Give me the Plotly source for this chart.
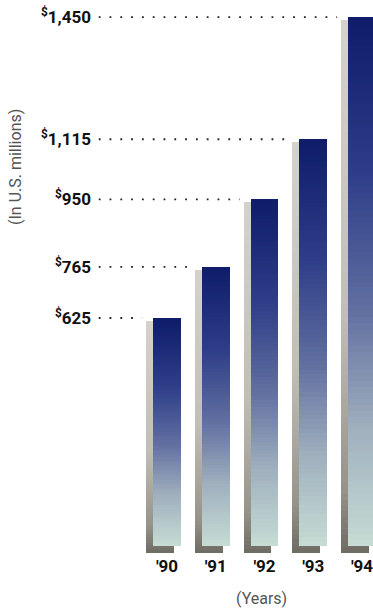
import plotly.graph_objects as go
import numpy as np

# ---- data ----
years = ["'90", "'91", "'92", "'93", "'94"]
revenue = [625, 765, 950, 1115, 1450]          # in U.S. $ millions
tick_text = ["<sup>$</sup>625", "<sup>$</sup>765", "<sup>$</sup>950",
             "<sup>$</sup>1,115", "<sup>$</sup>1,450"]

FONT = "Liberation Sans Narrow, Roboto, sans-serif"

# ---- geometry (axis units) ----
xpos = list(range(len(years)))
bar_w = 0.574
shadow_dx = -0.1436
shadow_base = -19.0
shadow_top_drop = 8.0
N = 90

def lerp_color(stops, t):
    ts = [s[0] for s in stops]
    for k in range(len(stops) - 1):
        if ts[k] <= t <= ts[k + 1]:
            a, b = stops[k], stops[k + 1]
            f = (t - a[0]) / (b[0] - a[0]) if b[0] > a[0] else 0
            c = [int(round(a[1][m] + (b[1][m] - a[1][m]) * f)) for m in range(3)]
            return "rgb(%d,%d,%d)" % tuple(c)
    c = stops[-1][1]
    return "rgb(%d,%d,%d)" % tuple(c)

front_stops = [(0.0, (198, 220, 212)), (0.22, (160, 176, 190)), (0.45, (96, 110, 160)),
               (0.7, (46, 62, 136)), (1.0, (14, 28, 106))]
shadow_stops = [(0.0, (110, 108, 98)), (0.12, (150, 148, 138)), (0.45, (192, 190, 182)),
                (1.0, (212, 210, 202))]

fig = go.Figure()

def gradient_bars(xs, tops, base0, stops, width):
    bx, bb, bh, bc = [], [], [], []
    for x, top in zip(xs, tops):
        span = top - base0
        step = span / N
        for j in range(N):
            b = base0 + step * j
            h = min(step * 1.8, top - b)
            bx.append(x)
            bb.append(b)
            bh.append(h)
            bc.append(lerp_color(stops, (j + 0.5) / N))
    return go.Bar(x=bx, y=bh, base=bb, width=width,
                  marker=dict(color=bc, line=dict(width=0)),
                  hoverinfo="skip", showlegend=False)

# shadow bars
fig.add_trace(gradient_bars([x + shadow_dx for x in xpos],
                            [v - shadow_top_drop for v in revenue],
                            shadow_base, shadow_stops, bar_w))
# front bars
fig.add_trace(gradient_bars(xpos, revenue, 0.0, front_stops, bar_w))

# dotted leader lines
x_left = -1.40
for x, v in zip(xpos, revenue):
    fig.add_trace(go.Scatter(x=[x_left, x + shadow_dx - bar_w / 2 - 0.08], y=[v, v],
                             mode="lines",
                             line=dict(color="#222222", width=1.8, dash="1.8px,9px"),
                             hoverinfo="skip", showlegend=False))

fig.update_layout(
    width=373, height=610,
    margin=dict(l=98, r=0, t=0, b=56),
    paper_bgcolor="white", plot_bgcolor="white",
    barmode="overlay", bargap=0,
    hovermode=False,
    font=dict(family=FONT, color="#111111"),
    xaxis=dict(range=[-1.4154, 4.2256], tickvals=xpos, ticktext=years,
               showgrid=False, zeroline=False, showline=False, ticks="",
               ticklabeloverflow="allow",
               tickfont=dict(family=FONT, size=17, color="#111111", weight="bold"),
               fixedrange=True),
    yaxis=dict(range=[-21.9, 1496.7], tickvals=revenue, ticktext=tick_text,
               showgrid=False, zeroline=False, showline=False, ticks="",
               ticklabelstandoff=6,
               tickfont=dict(family=FONT, size=17, color="#111111", weight="bold"),
               fixedrange=True),
    annotations=[
        dict(text="(In U.S. millions)", xref="paper", yref="paper",
             x=0, y=1, xanchor="center", yanchor="middle",
             xshift=15 - 98, yshift=-(167),
             textangle=-90, showarrow=False,
             font=dict(family=FONT, size=16, color="#555555")),
        dict(text="(Years)", xref="paper", yref="paper",
             x=0, y=0, xanchor="center", yanchor="middle",
             xshift=261 - 98, yshift=-(598 - 554),
             showarrow=False,
             font=dict(family=FONT, size=16, color="#555555")),
    ],
)

fig.write_html("out.html")
